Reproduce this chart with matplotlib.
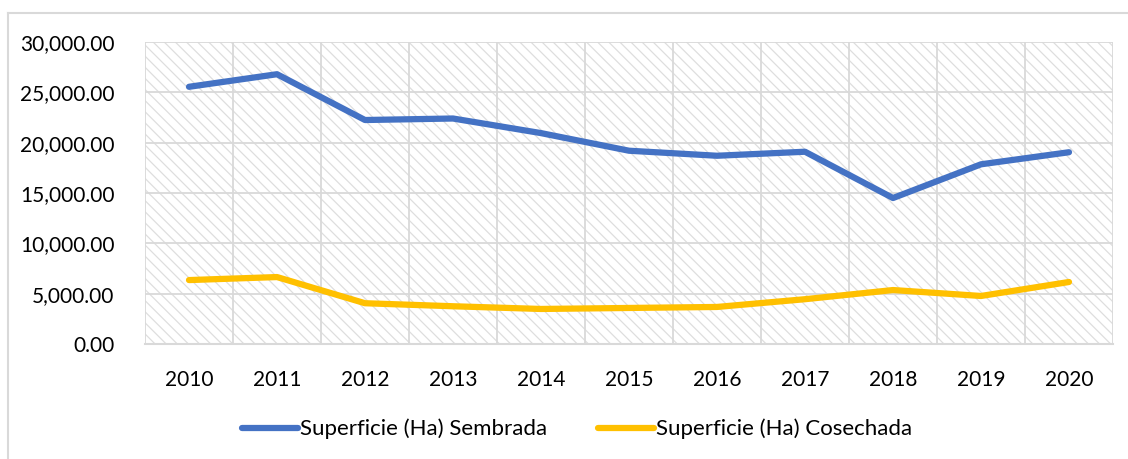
import matplotlib.pyplot as plt
from matplotlib.patches import Rectangle
from matplotlib.lines import Line2D
from matplotlib.ticker import FuncFormatter

plt.rcParams['font.family'] = ['Lato', 'DejaVu Sans']
plt.rcParams['hatch.linewidth'] = 0.9

YEARS = ['2010', '2011', '2012', '2013', '2014', '2015',
         '2016', '2017', '2018', '2019', '2020']
SEMBRADA = [25550, 26800, 22250, 22400, 20950, 19200,
            18700, 19100, 14500, 17850, 19050]
COSECHADA = [6350, 6650, 4050, 3750, 3480, 3580,
             3680, 4450, 5360, 4770, 6160]
LABELS = ['Superficie (Ha) Sembrada', 'Superficie (Ha) Cosechada']
COLORS = {'blue': '#4472C4', 'yellow': '#FFC000', 'grid': '#D9D9D9'}

fig = plt.figure(figsize=(11.28, 4.59), dpi=100)
ax = fig.add_axes([145 / 1128, 115 / 459, (1113 - 145) / 1128, (344 - 42) / 459])

# hatched plot area
ax.patch.set_visible(False)
ax.add_patch(Rectangle((0, 0), 1, 1, transform=ax.transAxes, fill=False,
                       hatch='\\\\\\', edgecolor='#DEDEDE', lw=0, zorder=0))

x = list(range(len(YEARS)))
ax.plot(x, SEMBRADA, color=COLORS['blue'], lw=4.5, solid_capstyle='round',
        solid_joinstyle='round', zorder=3)
ax.plot(x, COSECHADA, color=COLORS['yellow'], lw=4.5, solid_capstyle='round',
        solid_joinstyle='round', zorder=3)

ax.set_xlim(-0.5, len(YEARS) - 0.5)
ax.set_ylim(0, 30000)
ax.set_yticks(range(0, 30001, 5000))
ax.yaxis.set_major_formatter(FuncFormatter(lambda v, p: '{:,.2f}'.format(v)))
ax.set_xticks(x)
ax.set_xticklabels(YEARS)
ax.set_xticks([i - 0.5 for i in range(len(YEARS) + 1)], minor=True)

ax.grid(True, which='major', axis='y', color=COLORS['grid'], lw=1.3, zorder=1)
ax.grid(True, which='minor', axis='x', color=COLORS['grid'], lw=1.3, zorder=1)
ax.set_axisbelow(True)

for s in ['top', 'right', 'left']:
    ax.spines[s].set_visible(False)
ax.spines['bottom'].set_color(COLORS['grid'])
ax.spines['bottom'].set_linewidth(1.5)

ax.tick_params(axis='both', which='both', length=0, labelsize=15, colors='#000000')
ax.tick_params(axis='y', pad=22)
ax.tick_params(axis='x', pad=19)

handles = [Line2D([], [], color=COLORS['blue'], lw=4.5, solid_capstyle='round'),
           Line2D([], [], color=COLORS['yellow'], lw=4.5, solid_capstyle='round')]
fig.legend(handles, LABELS, loc='center', bbox_to_anchor=(577 / 1128, 1 - 429 / 459),
           ncol=2, frameon=False, fontsize=16, handlelength=2.5, handletextpad=0.1,
           columnspacing=2.3)

# chart border (cropped: only left and top visible)
fig.add_artist(Line2D([8 / 1128, 8 / 1128], [0, 1 - 13 / 459], color='#D9D9D9', lw=1.5))
fig.add_artist(Line2D([8 / 1128, 1], [1 - 13 / 459, 1 - 13 / 459], color='#D9D9D9', lw=1.5))

fig.savefig('out.png', dpi=100, facecolor='white')
